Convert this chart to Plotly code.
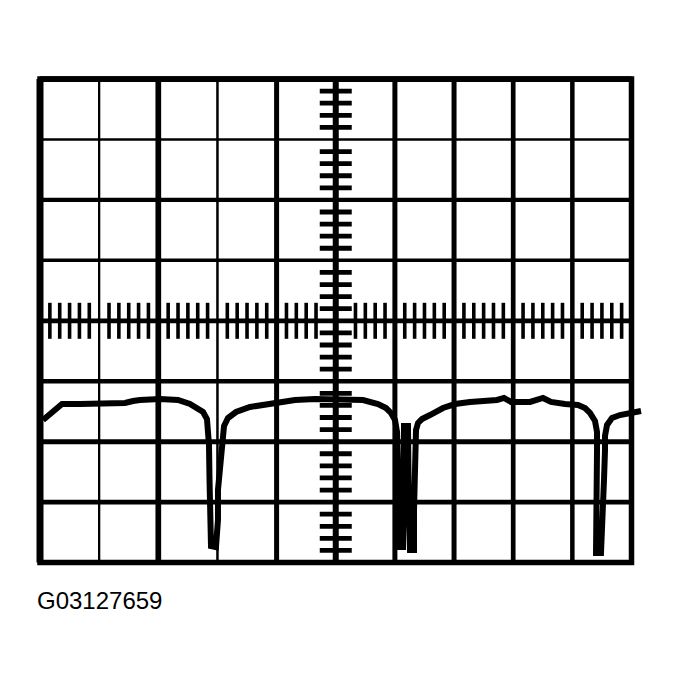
import plotly.graph_objects as go

# ---------------- data (x in horizontal divisions 0..10, y in vertical divisions -4..4) -------------
wave_x = [0.051, 0.169, 0.270, 0.372, 0.676, 1.014, 1.437, 1.572, 1.691, 2.029, 2.333, 2.536,
          2.671, 2.756, 2.823, 2.840, 2.857, 2.866, 2.874, 2.891, 2.975, 3.009, 3.009, 3.043,
          3.060, 3.077, 3.111, 3.178, 3.314, 3.550, 3.804, 4.108, 4.311, 4.649, 5.072, 5.461,
          5.714, 5.850, 5.934, 6.002, 6.036, 6.052, 6.052, 6.069, 6.086, 6.137, 6.137, 6.137,
          6.137, 6.154, 6.221, 6.221, 6.221, 6.238, 6.255, 6.323, 6.323, 6.340, 6.340, 6.357,
          6.391, 6.458, 6.593, 6.813, 7.016, 7.270, 7.726, 7.844, 7.963, 8.284, 8.504, 8.639,
          8.876, 9.095, 9.214, 9.298, 9.383, 9.417, 9.417, 9.417, 9.400, 9.400, 9.484, 9.518,
          9.535, 9.552, 9.552, 9.586, 9.670, 9.805, 10.008, 10.161]
wave_y = [-1.641, -1.542, -1.443, -1.377, -1.377, -1.360, -1.360, -1.327, -1.310, -1.294, -1.310, -1.377,
          -1.443, -1.509, -1.625, -1.774, -2.055, -2.634, -3.296, -3.726, -3.743, -3.296, -2.799, -2.435,
          -2.105, -1.906, -1.741, -1.608, -1.509, -1.426, -1.393, -1.360, -1.310, -1.294, -1.294, -1.310,
          -1.377, -1.443, -1.525, -1.641, -1.840, -2.303, -2.965, -3.461, -3.743, -3.743, -3.130, -2.469,
          -1.972, -1.741, -1.741, -1.972, -2.634, -3.296, -3.792, -3.792, -3.130, -2.469, -1.972, -1.807,
          -1.691, -1.625, -1.559, -1.443, -1.377, -1.343, -1.310, -1.277, -1.343, -1.343, -1.277, -1.343,
          -1.377, -1.393, -1.443, -1.525, -1.658, -1.840, -2.138, -2.634, -3.296, -3.842, -3.842, -3.296,
          -2.634, -2.138, -1.906, -1.724, -1.608, -1.559, -1.509, -1.492]

label_text = "G03127659"

# graticule divisions
n_hdiv = 10
n_vdiv = 8

# ---------------- layout geometry ----------------
OFF = 8                       # default body margin of the page
W, H = 677 - OFF, 685 - OFF
PX_X = 59.15                  # px per horizontal division
PX_Y = 60.44                  # px per vertical division
GX0 = 40.0 - OFF              # pixel x of left border (div coords)
GY_MID = 320.8 - OFF          # pixel y of centre line (div coords)
ml, mt = 22, 61
plot_w, plot_h = 615, 503
mr = W - ml - plot_w
mb = H - mt - plot_h
x0 = -(GX0 - ml) / PX_X
x1 = x0 + plot_w / PX_X
y1 = (GY_MID - mt) / PX_Y
y0 = y1 - plot_h / PX_Y

shapes = []

def line(xa, ya, xb, yb, w):
    shapes.append(dict(type="line", xref="x", yref="y", x0=xa, y0=ya, x1=xb, y1=yb,
                       line=dict(color="black", width=w), layer="above"))

# vertical grid lines
vwidths = [7, 2.3, 5.7, 2.5, 5, 6, 5, 5, 4.7, 4.5, 5]
for i in range(n_hdiv + 1):
    line(i, -4, i, 4, vwidths[i])
# horizontal grid lines (bottom -> top)
hwidths = [4.5, 4.7, 5, 4.3, 4.7, 3.5, 4.3, 2.7, 5.7]
for j in range(n_vdiv + 1):
    line(0, j - 4, 10, j - 4, hwidths[j])
# border rectangle (clean corners)
shapes.append(dict(type="rect", xref="x", yref="y", x0=0, y0=-4, x1=10, y1=4,
                   line=dict(color="black", width=5.5), fillcolor="rgba(0,0,0,0)", layer="above"))

# minor ticks on the vertical centre axis (horizontal bars)
for j in range(n_vdiv):
    for m in range(1, 5):
        yy = -4 + j + m / 5
        line(5 - 16 / PX_X, yy, 5 + 16 / PX_X, yy, 4.8)
# minor ticks on the horizontal centre axis (vertical bars)
for i in range(n_hdiv):
    for m in range(1, 6):
        xx = i + m / 6
        if abs(xx - 5) < 0.3:
            continue
        line(xx, -18 / PX_Y, xx, 18 / PX_Y, 3.6)

fig = go.Figure()
fig.add_trace(go.Scatter(x=wave_x, y=wave_y, mode="lines",
                         line=dict(color="black", width=6, shape="linear"),
                         hoverinfo="skip", showlegend=False))

# label position in paper coordinates (reference pixels: left 35, box top 586)
lab_x = (35 - OFF - ml) / plot_w
lab_y = (mt + plot_h - (585 - OFF)) / plot_h

fig.update_layout(
    width=W, height=H,
    margin=dict(l=ml, r=mr, t=mt, b=mb, pad=0),
    paper_bgcolor="white", plot_bgcolor="white",
    xaxis=dict(range=[x0, x1], visible=False, fixedrange=True),
    yaxis=dict(range=[y0, y1], visible=False, fixedrange=True),
    shapes=shapes,
    showlegend=False,
    annotations=[dict(text=label_text, xref="paper", yref="paper",
                      x=lab_x, y=lab_y,
                      xanchor="left", yanchor="top", showarrow=False,
                      font=dict(family="Liberation Sans, Arial, sans-serif", size=24, color="black"))],
)

fig.write_html("out.html")
